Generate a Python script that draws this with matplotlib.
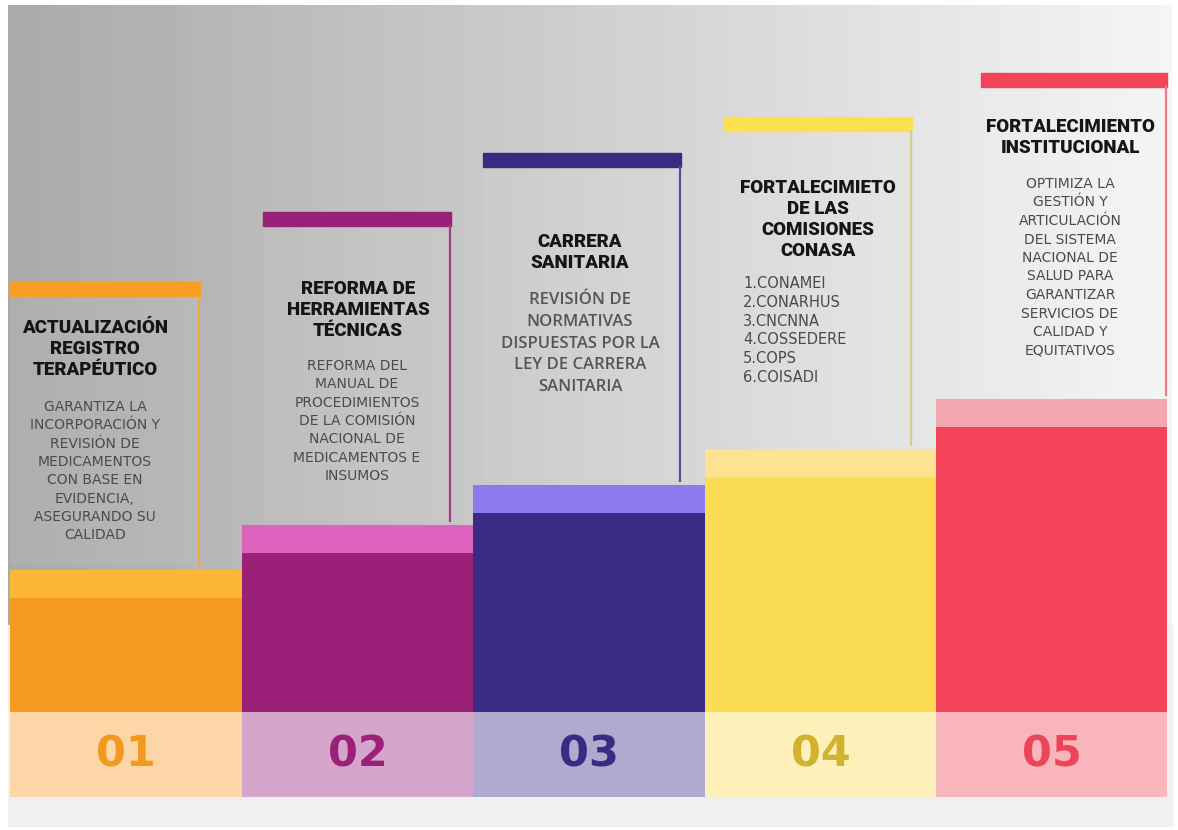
import numpy as np
import matplotlib.pyplot as plt
from matplotlib.patches import Rectangle

# Data
steps = ['01', '02', '03', '04', '05']
titles = [
    ['ACTUALIZACIÓN', 'REGISTRO', 'TERAPÉUTICO'],
    ['REFORMA DE', 'HERRAMIENTAS', 'TÉCNICAS'],
    ['CARRERA', 'SANITARIA'],
    ['FORTALECIMIETO', 'DE LAS', 'COMISIONES', 'CONASA'],
    ['FORTALECIMIENTO', 'INSTITUCIONAL'],
]
bodies = [
    ['GARANTIZA LA', 'INCORPORACIÓN Y', 'REVISIÓN DE', 'MEDICAMENTOS',
     'CON BASE EN', 'EVIDENCIA,', 'ASEGURANDO SU', 'CALIDAD'],
    ['REFORMA DEL', 'MANUAL DE', 'PROCEDIMIENTOS', 'DE LA COMISIÓN',
     'NACIONAL DE', 'MEDICAMENTOS E', 'INSUMOS'],
    ['REVISIÓN DE', 'NORMATIVAS', 'DISPUESTAS POR LA', 'LEY DE CARRERA',
     'SANITARIA'],
    ['1.CONAMEI', '2.CONARHUS', '3.CNCNNA', '4.COSSEDERE', '5.COPS',
     '6.COISADI'],
    ['OPTIMIZA LA', 'GESTIÓN Y', 'ARTICULACIÓN', 'DEL SISTEMA',
     'NACIONAL DE', 'SALUD PARA', 'GARANTIZAR', 'SERVICIOS DE',
     'CALIDAD Y', 'EQUITATIVOS'],
]
step_heights = [114, 159, 199, 235, 285]

# Colours
main_c = ['#F39A1F', '#9A2177', '#3A2A84', '#FDDC55', '#F4445A']
cap_c = ['#FBB735', '#E062BF', '#8E7AEF', '#FBE38F', '#F2A6AE']
cell_c = ['#FCD6A7', '#D6A5CB', '#B0AAD0', '#FEF0B9', '#F9B5BC']
num_c = ['#F29A1F', '#9A2177', '#3A2A84', '#D2B32F', '#EE4458']
stripe_c = ['#F6A023', '#9A2177', '#3A2A84', '#FBE04F', '#F4445A']
line_c = ['#F2A848', '#A0407F', '#5A4E9A', '#D6CC8C', '#F07A88']

# Layout (pixel units, y measured from the top)
W, H = 1178, 830
edges = np.array([10, 242, 473, 705, 936, 1167])
centers = (edges[:-1] + edges[1:]) / 2
widths = np.diff(edges)
base, cell_h, cap_h = 712, 85, 28
stripe_top = [282, 212, 153, 117, 73]
stripe_x = [(10, 200), (263, 451), (483, 681), (724, 912), (981, 1167)]
title_y = [328, 289, 242, 188, 127]
title_x = [95, 358, 580, 818, 1070]
body_y = [407, 366, 300, 284, 184]
body_x = [95, 357, 580, 743, 1070]
body_gap = [18.3, 18.3, 21.8, 18.6, 18.5]


def Y(p):
    return H - p


fig = plt.figure(figsize=(W / 100, H / 100), dpi=100)
ax = fig.add_axes([0, 0, 1, 1])
ax.set_xlim(0, W)
ax.set_ylim(0, H)
ax.axis('off')

# background
grad = np.linspace(0.665, 0.96, 256).reshape(1, -1)
ax.imshow(grad, cmap='gray', vmin=0, vmax=1, aspect='auto',
          extent=(8, 1172, Y(625), Y(6)), zorder=0)
ax.add_patch(Rectangle((8, Y(826)), 1164, 826 - 625, color='#EEF0F2', zorder=0))

# number cells, bars and caps
ax.bar(centers, cell_h, width=widths, bottom=Y(base + cell_h), color=cell_c, zorder=2)
ax.bar(centers, step_heights, width=widths, bottom=Y(base), color=main_c, zorder=2)
tops = Y(base) + np.array(step_heights)
ax.bar(centers, cap_h, width=widths, bottom=tops, color=cap_c, zorder=2)

for i in range(5):
    x0, x1 = stripe_x[i]
    s_bot = stripe_top[i] + 14
    cap_top = H - (tops[i] + cap_h)
    # faint card
    ax.add_patch(Rectangle((x0, Y(cap_top - 4)), x1 - x0, cap_top - 4 - s_bot,
                           color='white', alpha=0.05, lw=0, zorder=1))
    # stripe + right line
    ax.add_patch(Rectangle((x0, Y(s_bot)), x1 - x0, 14, color=stripe_c[i], zorder=3))
    ax.plot([x1 - 1, x1 - 1], [Y(s_bot), Y(cap_top - 4)], color=line_c[i], lw=1.6, zorder=3)

    # step number
    ax.text(centers[i], Y(base + cell_h / 2), steps[i], ha='center', va='center',
            fontsize=31, fontweight='bold', family='DejaVu Sans', color=num_c[i], zorder=4)

    # title
    for j, line in enumerate(titles[i]):
        ax.text(title_x[i], Y(title_y[i] + 21 * j), line, ha='center', va='center',
                fontsize=13.5, fontweight='black', family='Roboto', color='#151515', zorder=4)

    # body
    for j, line in enumerate(bodies[i]):
        yy = Y(body_y[i] + body_gap[i] * j)
        if i == 2:
            ax.text(body_x[i], yy, line, ha='center', va='center', fontsize=12,
                    fontweight='semibold', family='Open Sans', color='#555555', zorder=4)
        elif i == 3:
            ax.text(body_x[i], yy, line, ha='left', va='center', fontsize=10.5,
                    family='DejaVu Sans', color='#4a4a4a', zorder=4)
        else:
            ax.text(body_x[i], yy, line, ha='center', va='center', fontsize=10,
                    family='DejaVu Sans', color='#4a4a4a', zorder=4)

fig.savefig('out.png', dpi=100, facecolor='white')
